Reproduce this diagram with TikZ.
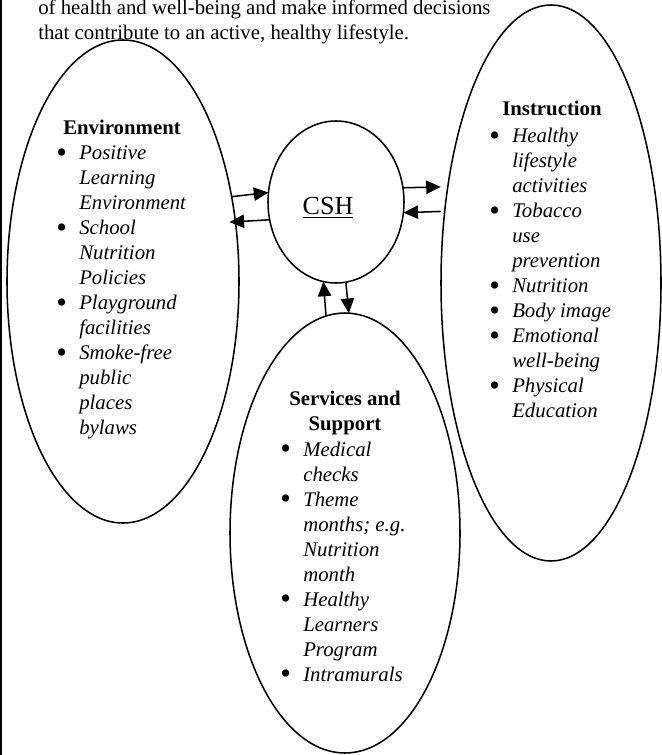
\documentclass[tikz,border=0pt]{standalone}
\usepackage{fontspec}
\setmainfont{Liberation Serif}
\usetikzlibrary{shapes.geometric,arrows.meta}
\newcommand\mybul{\makebox[17.25pt][l]{\upshape\raisebox{-1.6pt}{\scalebox{1.45}{\textbullet}}}}
\newcommand\myind{\hspace*{17.25pt}}
\newcommand\lstblock[1]{\begin{tabular}[t]{@{}l@{}}#1\end{tabular}}
\newcommand\ctrblock[1]{\begin{tabular}[t]{@{}c@{}}#1\end{tabular}}
\tikzset{
  oval/.style={draw, ellipse, line width=1.15pt, inner sep=0pt, outer sep=0pt},
  arr/.style={-{Triangle[length=11pt,width=10pt]}, line width=1.15pt},
  txt/.style={anchor=base west, inner sep=0pt, font=\fontsize{15.6}{18.75}\selectfont},
  itemlist/.style={txt, font=\fontsize{15.6}{18.75}\selectfont\itshape},
  head/.style={anchor=base, inner sep=0pt, font=\fontsize{15.6}{18.75}\selectfont\bfseries},
}
\begin{document}
\begin{tikzpicture}[x=0.75pt,y=-0.75pt]
\useasboundingbox (0,0) rectangle (661,755);
% left margin rule
\draw[line width=1.5pt] (1,0) coordinate (rt) -- (1,755) coordinate (rb);
% intro text
\node[txt] (intro1) at (38,15) {of health and well-being and make informed decisions};
\node[txt] (intro2) at (38,40) {that contribute to an active, healthy lifestyle.};
% ellipses
\node[oval, minimum width=174pt, minimum height=362.25pt] (env) at (123,281.5) {};
\node[oval, minimum width=165pt, minimum height=417pt] (ins) at (551,283) {};
\node[oval, minimum width=172.5pt, minimum height=330pt] (srv) at (345,533) {};
\node[oval, minimum width=102pt, minimum height=121.5pt] (csh) at (336,202) {};
\node[anchor=base, inner sep=0pt, font=\fontsize{19.5}{23}\selectfont] (cshlabel) at (328,215) {\underline{CSH}};
% Environment
\node[head] (envhead) at (122,135) {Environment};
\node[itemlist] (envlist) at (56,160) {\lstblock{\mybul Positive\\ \myind Learning\\ \myind Environment\\
  \mybul School\\ \myind Nutrition\\ \myind Policies\\ \mybul Playground\\ \myind facilities\\
  \mybul Smoke-free\\ \myind public\\ \myind places\\ \myind bylaws}};
% Instruction
\node[head] (inshead) at (552,116) {Instruction};
\node[itemlist] (inslist) at (489,143) {\lstblock{\mybul Healthy\\ \myind lifestyle\\ \myind activities\\
  \mybul Tobacco\\ \myind use\\ \myind prevention\\ \mybul Nutrition\\ \mybul Body image\\
  \mybul Emotional\\ \myind well-being\\ \mybul Physical\\ \myind Education}};
% Services and Support
\node[head] (srvhead) at (345,405) {\ctrblock{Services and\\Support}};
\node[itemlist] (srvlist) at (280,456) {\lstblock{\mybul Medical\\ \myind checks\\ \mybul Theme\\
  \myind months; e.g.\\ \myind Nutrition\\ \myind month\\ \mybul Healthy\\ \myind Learners\\
  \myind Program\\ \mybul Intramurals}};
% connectors
\draw[arr] (env.38.4) -- (csh.172.6);
\draw[arr, shorten >=-4.5pt] (csh.195.3) -- (env.28.8);
\draw[arr, shorten >=5.2pt] (csh.12.6) -- (ins.137.1);
\draw[arr, shorten <=2.8pt] (ins.146.3) -- (csh.351.6);
\draw[arr] (srv.95.5) -- (csh.261.4);
\draw[arr] (csh.277.1) -- (srv.89.7);
\end{tikzpicture}
\end{document}
